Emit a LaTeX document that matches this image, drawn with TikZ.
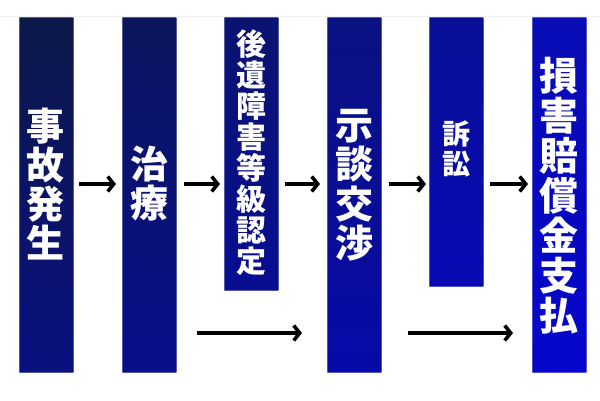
\documentclass[tikz,border=0pt]{standalone}
\usepackage{fontspec}
\newfontfamily\jpfont{Noto Sans CJK JP}
\usetikzlibrary{arrows.meta}
\definecolor{ca1}{RGB}{12,24,72}   \definecolor{cb1}{RGB}{10,16,128}
\definecolor{ca2}{RGB}{11,22,94}   \definecolor{cb2}{RGB}{9,14,138}
\definecolor{ca3}{RGB}{10,19,112}  \definecolor{cb3}{RGB}{9,14,146}
\definecolor{ca4}{RGB}{10,17,128}  \definecolor{cb4}{RGB}{8,10,168}
\definecolor{ca5}{RGB}{9,14,150}   \definecolor{cb5}{RGB}{8,10,180}
\definecolor{ca6}{RGB}{8,12,180}   \definecolor{cb6}{RGB}{6,6,204}
\tikzset{
  bar/.style={rectangle, inner sep=0, minimum width=54pt, anchor=north west,
    draw=white, draw opacity=0.3, line width=0.6pt},
  vtxt/.style={text=white, align=center, inner sep=0},
  arr/.style={line width=3.6pt, -{Straight Barb[length=6pt,width=15pt,line width=3.6pt]}},
}
\begin{document}
\begin{tikzpicture}[x=1pt,y=-1pt]
\useasboundingbox (0,0) rectangle (600,400);
\draw[black!5, line width=0.6pt] (0,16.5) -- (600,16.5);
% bars
\node[bar, minimum height=355pt, top color=ca1, bottom color=cb1] (b1) at (19,17) {};
\node[bar, minimum height=355pt, top color=ca2, bottom color=cb2] (b2) at (122,17) {};
\node[bar, minimum height=273pt, top color=ca3, bottom color=cb3] (b3) at (224,17) {};
\node[bar, minimum height=355pt, top color=ca4, bottom color=cb4] (b4) at (327,17) {};
\node[bar, minimum height=269pt, top color=ca5, bottom color=cb5] (b5) at (429,17) {};
\node[bar, minimum height=355pt, top color=ca6, bottom color=cb6] (b6) at (532,17) {};
% texts
\node[vtxt, font=\fontsize{38}{39}\selectfont\jpfont\bfseries] (t1) at (46,184) {事\\故\\発\\生};
\node[vtxt, font=\fontsize{38}{39}\selectfont\jpfont\bfseries] (t2) at (149,184) {治\\療};
\node[vtxt, font=\fontsize{30}{31}\selectfont\jpfont\bfseries] (t3) at (251,153) {後\\遺\\障\\害\\等\\級\\認\\定};
\node[vtxt, font=\fontsize{38}{39.5}\selectfont\jpfont\bfseries] (t4) at (354,185) {示\\談\\交\\渉};
\node[vtxt, font=\fontsize{28}{29.5}\selectfont\jpfont\bfseries] (t5) at (456,149) {訴\\訟};
\node[vtxt, font=\fontsize{39}{40}\selectfont\jpfont\bfseries] (t6) at (559,196) {損\\害\\賠\\償\\金\\支\\払};
% arrows
\coordinate (r1) at (0,184);
\coordinate (r2) at (0,333);
\draw[arr, shorten <=5pt, shorten >=6pt] (b1.east |- r1) -- (b2.west |- r1);
\draw[arr, shorten <=7pt, shorten >=4pt] (b2.east |- r1) -- (b3.west |- r1);
\draw[arr, shorten <=6pt, shorten >=7pt] (b3.east |- r1) -- (b4.west |- r1);
\draw[arr, shorten <=7pt, shorten >=3pt] (b4.east |- r1) -- (b5.west |- r1);
\draw[arr, shorten <=6pt, shorten >=4pt] (b5.east |- r1) -- (b6.west |- r1);
\draw[arr, shorten <=20pt, shorten >=25pt] (b2.east |- r2) -- (b4.west |- r2);
\draw[arr, shorten <=26pt, shorten >=19pt] (b4.east |- r2) -- (b6.west |- r2);
\end{tikzpicture}
\end{document}
